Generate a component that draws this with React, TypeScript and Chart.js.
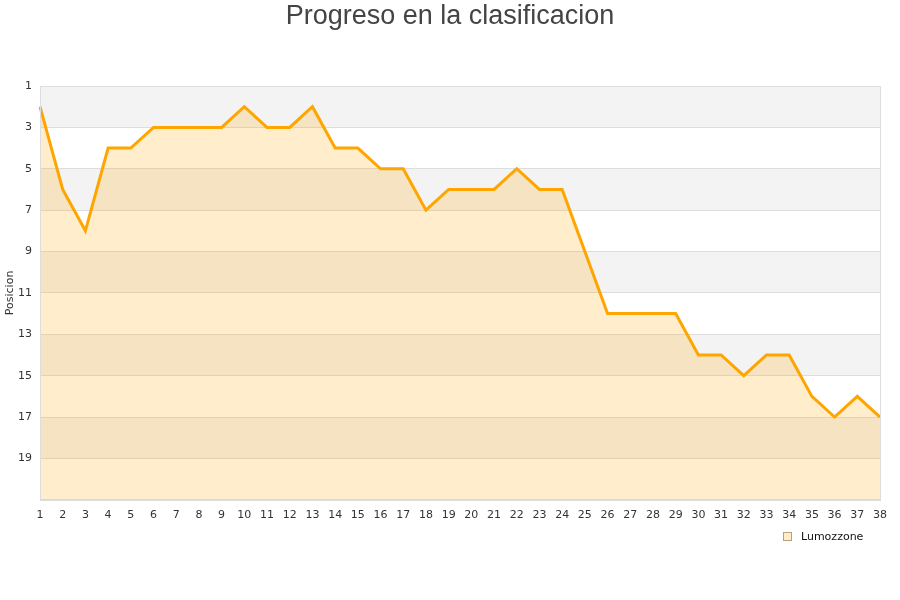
import React, { useEffect, useRef } from "react";
import { Chart, registerables } from "chart.js";

Chart.register(...registerables);

const rounds: string[] = [
  "1", "2", "3", "4", "5", "6", "7", "8", "9", "10",
  "11", "12", "13", "14", "15", "16", "17", "18", "19", "20",
  "21", "22", "23", "24", "25", "26", "27", "28", "29", "30",
  "31", "32", "33", "34", "35", "36", "37", "38",
];
const positions: number[] = [
  2, 6, 8, 4, 4, 3, 3, 3, 3, 2,
  3, 3, 2, 4, 4, 5, 5, 7, 6, 6,
  6, 5, 6, 6, 9, 12, 12, 12, 12, 14,
  14, 15, 14, 14, 16, 17, 16, 17,
];
const teamName = "Lumozzone";
const chartTitle = "Progreso en la clasificacion";
const yTitle = "Posicion";
const yMin = 1;
const yMax = 21;
const bandStarts: number[] = [1, 5, 9, 13, 17];

const bandsPlugin = {
  id: "bands",
  beforeDraw(chart: any) {
    const { ctx, chartArea } = chart;
    const y = chart.scales.y;
    ctx.save();
    ctx.fillStyle = "#f3f3f3";
    for (const b of bandStarts) {
      const p1 = y.getPixelForValue(b);
      const p2 = y.getPixelForValue(b + 2);
      ctx.fillRect(chartArea.left, Math.min(p1, p2), chartArea.right - chartArea.left, Math.abs(p2 - p1));
    }
    ctx.restore();
  },
  afterDatasetsDraw(chart: any) {
    const { ctx, chartArea } = chart;
    ctx.save();
    ctx.strokeStyle = "#dddddd";
    ctx.lineWidth = 1;
    ctx.strokeRect(
      Math.round(chartArea.left) + 0.5,
      Math.round(chartArea.top) + 0.5,
      Math.round(chartArea.right - chartArea.left),
      Math.round(chartArea.bottom - chartArea.top)
    );
    ctx.restore();
  },
  afterDraw(chart: any) {
    const { ctx, chartArea } = chart;
    const bx = Math.round(chartArea.right) - 97;
    const by = Math.round(chartArea.bottom) + 32;
    ctx.save();
    ctx.fillStyle = "#ffedcc";
    ctx.fillRect(bx, by, 9, 9);
    ctx.strokeStyle = "#b8a07a";
    ctx.lineWidth = 1;
    ctx.strokeRect(bx + 0.5, by + 0.5, 8, 8);
    ctx.fillStyle = "#111111";
    ctx.font = "11px 'DejaVu Sans', sans-serif";
    ctx.textBaseline = "middle";
    ctx.textAlign = "left";
    ctx.fillText(teamName, bx + 18, by + 5);
    ctx.restore();
  },
};

export default function App() {
  const ref = useRef<HTMLCanvasElement | null>(null);
  useEffect(() => {
    if (!ref.current) return;
    const chart = new Chart(ref.current, {
      type: "line",
      data: {
        labels: rounds,
        datasets: [
          {
            label: teamName,
            data: positions,
            borderColor: "#ffa500",
            backgroundColor: "rgba(255,165,0,0.2)",
            borderWidth: 3,
            pointRadius: 0,
            tension: 0,
            fill: { value: yMax },
          },
        ],
      },
      options: {
        responsive: false,
        animation: false,
        layout: { padding: { left: 0, right: 0, top: 0, bottom: 69 } },
        plugins: {
          title: {
            display: true,
            text: chartTitle,
            color: "#444444",
            font: { family: "'Liberation Sans', Arial, sans-serif", size: 27, weight: "normal" },
            padding: { top: 0, bottom: 53.6 },
          },
          legend: { display: false },
          tooltip: { enabled: false },
        },
        scales: {
          x: {
            offset: false,
            grid: { display: false, drawTicks: false },
            border: { display: false },
            afterFit: (s: any) => {
              s.paddingRight = 20;
            },
            ticks: {
              color: "#333333",
              font: { family: "'DejaVu Sans', sans-serif", size: 11 },
              padding: 9,
              maxRotation: 0,
              autoSkip: false,
            },
          },
          y: {
            reverse: true,
            min: yMin,
            max: yMax,
            afterFit: (s: any) => {
              s.width = 40;
            },
            grid: { color: "#dddddd", drawTicks: false },
            border: { display: false },
            title: {
              display: true,
              text: yTitle,
              color: "#333333",
              font: { family: "'DejaVu Sans', sans-serif", size: 11 },
              padding: { top: 4, bottom: 0 },
            },
            ticks: {
              stepSize: 2,
              color: "#333333",
              font: { family: "'DejaVu Sans', sans-serif", size: 11 },
              padding: 8,
              callback: (v: any) => (Number(v) === yMax ? "" : String(v)),
            },
          },
        },
      },
      plugins: [bandsPlugin],
    });
    return () => chart.destroy();
  }, []);
  return (
    <div style={{ position: "absolute", left: 0, top: 0, width: 900, height: 600, background: "#fff" }}>
      <canvas ref={ref} width={900} height={600} />
    </div>
  );
}
